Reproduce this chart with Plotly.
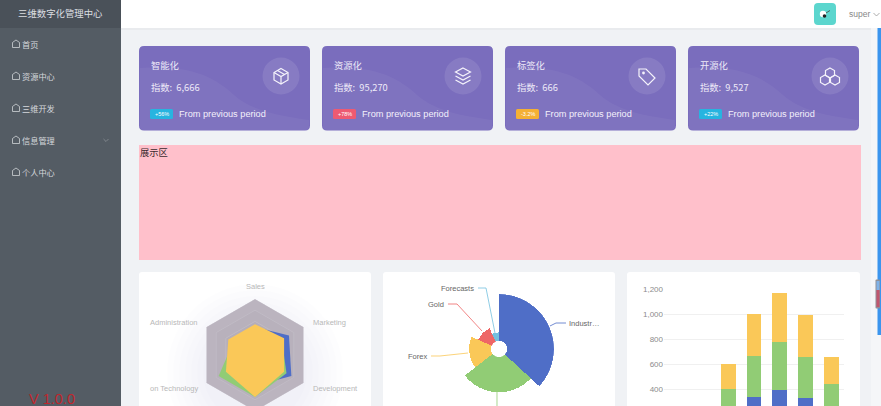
import re

import plotly.graph_objects as go

W, H = 881, 700  # page is taller than the window, like the scrolled dashboard

BLUE, GREEN, YELLOW, RED, SKY = "#4f6ec7", "#91cc75", "#fac858", "#ee6666", "#73c0de"

# radar
radar_indicators = ["Sales", "Administration", "Information Technology", "Customer Support", "Development", "Marketing"]
radar_max = [10000, 20000, 20000, 20000, 20000, 20000]
radar_budget = [5000, 7000, 12000, 11000, 15000, 14000]
radar_expected = [4000, 9000, 15000, 15000, 13000, 11000]
radar_actual = [5500, 11000, 12000, 15000, 12000, 12000]
radar_levels = [1.0, 0.8, 0.6, 0.4, 0.2]
radar_bands = ["#bbb4bf", "#b8b1bc", "#b5aeb9", "#b1aab5", "#ada6b1"]

# rose
rose_names = ["Industries", "Technology", "Forex", "Gold", "Forecasts"]
rose_values = [320, 240, 149, 100, 59]
rose_colors = [BLUE, GREEN, YELLOW, RED, SKY]

# stacked bars
days = ["Mon", "Tue", "Wed", "Thu", "Fri", "Sat", "Sun"]
page_a = [79, 52, 200, 334, 390, 330, 220]
page_b = [80, 52, 200, 334, 390, 330, 220]
page_c = [30, 52, 200, 334, 390, 330, 220]
bar_ticks = [400, 600, 800, 1000, 1200]

# cards
card_titles = ["智能化", "资源化", "标签化", "开源化"]
card_numbers = ["6,666", "95,270", "666", "9,527"]
card_badges = ["+56%", "+78%", "-3.2%", "+22%"]
badge_colors = ["#27b4e0", "#ee5a72", "#f5b034", "#27b4e0"]
card_lefts = [139, 322, 505, 688]
icon_centers = [281, 463, 647, 830]

menu_items = ["首页", "资源中心", "三维开发", "信息管理", "个人中心"]
menu_rows = [44, 76, 108, 140, 172]

CJK = "Noto Sans CJK SC, Liberation Sans, sans-serif"
LATIN = "Liberation Sans, Noto Sans CJK SC, sans-serif"


def to_paper(d):
    # pixel path -> paper path
    return re.sub(
        r"(-?\d+\.?\d*),(-?\d+\.?\d*)",
        lambda m: f"{float(m[1]) / W:.5f},{1 - float(m[2]) / H:.5f}",
        d,
    )


shapes = []
notes = []


def add_path(d, fill=None, line=None, lw=1, layer="below"):
    shapes.append(dict(
        type="path", xref="paper", yref="paper", path=to_paper(d), layer=layer,
        fillcolor=fill or "rgba(0,0,0,0)",
        line=dict(color=line or "rgba(0,0,0,0)", width=lw if line else 0),
    ))


def rect(x0, y0, x1, y1, fill, r=0, layer="below"):
    if r:
        d = (f"M {x0 + r},{y0} L {x1 - r},{y0} Q {x1},{y0} {x1},{y0 + r} L {x1},{y1 - r} "
             f"Q {x1},{y1} {x1 - r},{y1} L {x0 + r},{y1} Q {x0},{y1} {x0},{y1 - r} "
             f"L {x0},{y0 + r} Q {x0},{y0} {x0 + r},{y0} Z")
    else:
        d = f"M {x0},{y0} L {x1},{y0} L {x1},{y1} L {x0},{y1} Z"
    add_path(d, fill=fill, layer=layer)


def circle(cx, cy, r, fill, layer="below"):
    shapes.append(dict(
        type="circle", xref="paper", yref="paper", layer=layer,
        x0=(cx - r) / W, x1=(cx + r) / W, y0=1 - (cy + r) / H, y1=1 - (cy - r) / H,
        fillcolor=fill, line=dict(width=0),
    ))


def label(x, y, text, size=10, color="#fff", anchor="left", font=CJK):
    notes.append(dict(
        x=x / W, y=1 - y / H, xref="paper", yref="paper", text=text, showarrow=False,
        xanchor=anchor, yanchor="middle", borderpad=0,
        font=dict(size=size, color=color, family=font),
    ))


# page frame
rect(0, 0, W, H, "#f0f2f5")
rect(121, 0, W, 28, "#ffffff")
rect(121, 28, W, 30, "#e9ebee")
rect(0, 0, 121, H, "#545c64")
rect(0, 0, 121, 28, "#4a5159")

label(60, 13, "三维数字化管理中心", 9.4, "#dcdfe2", "center")
for name, row in zip(menu_items, menu_rows):
    add_path(f"M 12.5,{row + 3.5} L 12.5,{row - 1.5} L 16,{row - 4} L 19.5,{row - 1.5} L 19.5,{row + 3.5} Z",
             line="#cfd3d7", lw=0.8)
    label(20.5, row, name, 8.2, "#d5d8dc")
add_path("M 103.5,139 L 106,141.5 L 108.5,139", line="#8a9097", lw=0.8)
label(28, 399, "V 1.0.0", 14.5, "#c0272d", font=LATIN)

# header avatar
rect(814, 3, 836, 25, "#5cd6ce", r=4)
circle(823, 14, 3.2, "#ffffff")
circle(824.5, 16, 1.8, "#222222")
add_path("M 826,13 L 830,10.5", line="#444444", lw=0.8)
label(848, 14, "super", 8.5, "#888888", font=LATIN)
add_path("M 873.5,13 L 876.5,16 L 879.5,13", line="#999999", lw=0.8)

# cards
for i, x0 in enumerate(card_lefts):
    rect(x0, 46, x0 + 171, 130.5, "#7a6dbd", r=5)
    add_path(f"M {x0 + 1},68 C {x0 + 40},66 {x0 + 68},70 {x0 + 95},95 "
             f"C {x0 + 115},113 {x0 + 150},117 {x0 + 170},120 L {x0 + 170},126 "
             f"Q {x0 + 170},130 {x0 + 166},130 L {x0 + 5},130 Q {x0 + 1},130 {x0 + 1},126 Z",
             fill="rgba(255,255,255,0.045)")
    circle(icon_centers[i], 76, 18.5, "rgba(255,255,255,0.1)")
    label(x0 + 11, 65, card_titles[i], 9.3, "#eeeaf8")
    label(x0 + 11, 87, f"指数:  {card_numbers[i]}", 9.3, "#eeeaf8")
    rect(x0 + 11, 109, x0 + 34, 119, badge_colors[i], r=1.5)
    label(x0 + 22.5, 114, card_badges[i], 5.5, "#ffffff", "center", LATIN)
    label(x0 + 39, 114, "From previous period", 9.2, "#f3f0fb", font=LATIN)

# card icons
ICON = dict(line="#f5f3fb", lw=1.2, layer="above")
cx = icon_centers[0]
add_path(f"M {cx},68.5 L {cx + 7},72.5 L {cx + 7},80 L {cx},84 L {cx - 7},80 L {cx - 7},72.5 Z", **ICON)
add_path(f"M {cx - 7},72.5 L {cx},76.5 L {cx + 7},72.5 M {cx},76.5 L {cx},84 M {cx - 3.5},70.5 L {cx + 3.5},74.5", **ICON)
cx = icon_centers[1]
add_path(f"M {cx},68 L {cx + 7.5},72 L {cx},76 L {cx - 7.5},72 Z", **ICON)
add_path(f"M {cx - 7.5},76 L {cx},80 L {cx + 7.5},76 M {cx - 7.5},80 L {cx},84 L {cx + 7.5},80", **ICON)
cx = icon_centers[2]
add_path(f"M {cx - 8},69 L {cx - 1},69 L {cx + 8},78 L {cx + 1},85 L {cx - 8},76 Z", **ICON)
circle(cx - 3.5, 73, 1.4, "#f5f3fb", layer="above")
cx = icon_centers[3]
for hx, hy in [(0, -3), (-5, 4), (5, 4)]:
    add_path(f"M {cx + hx},{76 + hy - 5} L {cx + hx + 4.5},{76 + hy - 2.5} L {cx + hx + 4.5},{76 + hy + 2.5} "
             f"L {cx + hx},{76 + hy + 5} L {cx + hx - 4.5},{76 + hy + 2.5} L {cx + hx - 4.5},{76 + hy - 2.5} Z", **ICON)

# pink block
rect(139, 145, 861, 260, "#ffc0cb")
label(139, 152, "展示区", 9.3, "#3a2a2e")

# chart panels
for x0, x1 in [(139, 371), (383, 615), (627, 860)]:
    rect(x0, 272, x1, H, "#ffffff", r=3)

# radar drop shadow
for r in range(88, 50, -6):
    circle(255, 372, r, "rgba(60,50,65,0.008)")

# radar labels, the long one is cut by the panel edge
label(255, 286, "Sales", 7.5, "#b8b8b8", "center", LATIN)
label(199, 322, "Administration", 7.5, "#b8b8b8", "right", LATIN)
label(199, 388, "on Technology", 7.5, "#b8b8b8", "right", LATIN)
label(312, 388, "Development", 7.5, "#b8b8b8", font=LATIN)
label(312, 322, "Marketing", 7.5, "#b8b8b8", font=LATIN)

# rose leader lines and labels
add_path("M 550,326 L 556,323 L 566,323", line=BLUE, lw=0.8, layer="above")
add_path("M 497,392 L 497,420", line=GREEN, lw=0.8, layer="above")
add_path("M 468,353 L 440,356 L 431,356", line=YELLOW, lw=0.8, layer="above")
add_path("M 482,331 L 457,304 L 448,304", line=RED, lw=0.8, layer="above")
add_path("M 495,333 L 486,288 L 478,288", line=SKY, lw=0.8, layer="above")
label(568, 323, "Industr…", 7.5, "#666666", font=LATIN)
label(428, 356, "Forex", 7.5, "#666666", "right", LATIN)
label(445, 304, "Gold", 7.5, "#666666", "right", LATIN)
label(475, 288, "Forecasts", 7.5, "#666666", "right", LATIN)

# scrollbars
rect(871, 28, W, H, "#f5f6f8")
rect(877.5, 28, W, 335, "#3b95ee")
rect(875.5, 279.5, 880, 308.5, "#8f9097", r=1)
rect(876.5, 281, 879.5, 290, "#7fb2e8")
rect(876.5, 290, 879.5, 307, "#c0566e")

fig = go.Figure()

# radar
radar_closed = radar_indicators + radar_indicators[:1]
for lv, band in zip(radar_levels, radar_bands):
    fig.add_trace(go.Scatterpolar(
        r=[lv] * 7, theta=radar_closed, mode="lines", fill="toself",
        fillcolor=band, line=dict(color="#c2bcc6", width=0.8), subplot="polar", hoverinfo="skip",
    ))
for vals, color in [(radar_budget, BLUE), (radar_expected, GREEN), (radar_actual, YELLOW)]:
    ratio = [v / m for v, m in zip(vals, radar_max)]
    fig.add_trace(go.Scatterpolar(
        r=ratio + ratio[:1], theta=radar_closed, mode="lines", fill="toself",
        fillcolor=color, line=dict(color=color, width=0), subplot="polar",
    ))

# rose, angles come from the share of each value
total = sum(rose_values)
widths = [v / total * 360 for v in rose_values]
mids = [sum(widths[:i]) + widths[i] / 2 for i in range(len(widths))]
fig.add_trace(go.Barpolar(
    r=rose_values, theta=mids, width=widths, text=rose_names,
    marker=dict(color=rose_colors, line=dict(width=0)), subplot="polar2",
))

# stacked bars
for vals, color in [(page_a, BLUE), (page_b, GREEN), (page_c, YELLOW)]:
    fig.add_trace(go.Bar(x=days, y=vals, marker=dict(color=color, line=dict(width=0))))

blank_radial = dict(showgrid=False, showline=False, showticklabels=False, ticks="")
blank_angular = dict(showgrid=False, showline=False, showticklabels=False, ticks="")
fig.update_layout(
    width=W, height=H, autosize=False,
    margin=dict(l=0, r=0, t=0, b=0, autoexpand=False),
    paper_bgcolor="#f0f2f5", plot_bgcolor="rgba(0,0,0,0)",
    showlegend=False, shapes=shapes, annotations=notes,
    barmode="stack", bargap=0.42,
    polar=dict(
        domain=dict(x=[199 / W, 311 / W], y=[1 - 411 / H, 1 - 299 / H]),
        bgcolor="rgba(0,0,0,0)", gridshape="linear",
        radialaxis=dict(range=[0, 1], **blank_radial),
        angularaxis=dict(type="category", categoryorder="array", categoryarray=radar_indicators,
                         rotation=90, direction="counterclockwise", **blank_angular),
    ),
    polar2=dict(
        domain=dict(x=[444 / W, 554 / W], y=[1 - 404 / H, 1 - 294 / H]),
        bgcolor="rgba(0,0,0,0)", hole=0.145,
        radialaxis=dict(range=[0, 320], **blank_radial),
        angularaxis=dict(rotation=90, direction="clockwise", **blank_angular),
    ),
    xaxis=dict(domain=[664 / W, 844 / W], showgrid=False, showline=True, linecolor="#cccccc",
               ticks="", showticklabels=False),
    yaxis=dict(domain=[1 - 439 / H, 1 - 289 / H], range=[0, 1200], tickvals=bar_ticks,
               gridcolor="#f0f0f0", gridwidth=1, zeroline=False, ticks="",
               ticklen=0, tickformat=",", tickfont=dict(size=8, color="#8c8c8c", family=LATIN)),
)

fig.write_html(
    "out.html",
    config=dict(displayModeBar=False),
    post_script="document.documentElement.style.overflow='hidden';document.body.style.margin='0';document.body.style.overflow='hidden';",
)
